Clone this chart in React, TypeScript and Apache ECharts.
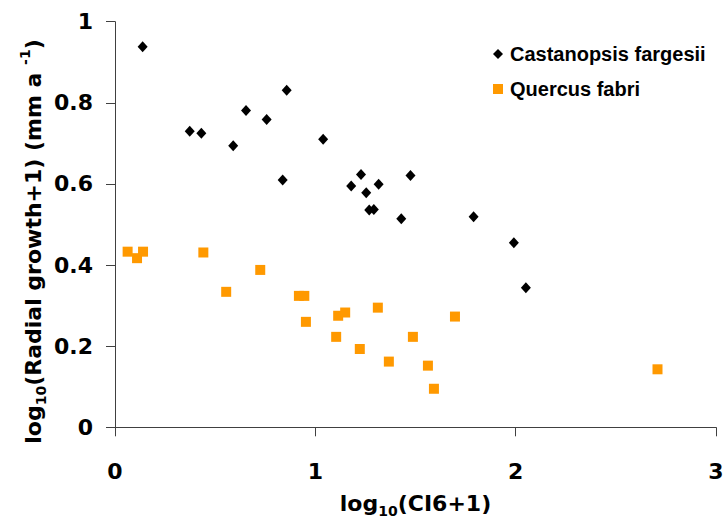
import React, { useEffect, useRef } from "react";
import * as echarts from "echarts";

// Castanopsis fargesii (diamonds)
const castX = [0.138, 0.373, 0.431, 0.59, 0.654, 0.757, 0.857, 0.837, 1.039, 1.179, 1.228, 1.254, 1.269, 1.292, 1.316, 1.429, 1.475, 1.79, 1.991, 2.051];
const castY = [0.938, 0.73, 0.725, 0.694, 0.781, 0.759, 0.831, 0.61, 0.71, 0.595, 0.623, 0.578, 0.536, 0.537, 0.599, 0.514, 0.621, 0.519, 0.455, 0.344];
// Quercus fabri (squares)
const quercX = [0.063, 0.11, 0.14, 0.441, 0.555, 0.725, 0.918, 0.945, 0.953, 1.104, 1.114, 1.149, 1.222, 1.312, 1.367, 1.487, 1.562, 1.592, 1.697, 2.708];
const quercY = [0.433, 0.417, 0.433, 0.431, 0.334, 0.388, 0.324, 0.324, 0.26, 0.223, 0.275, 0.283, 0.193, 0.295, 0.162, 0.223, 0.152, 0.095, 0.273, 0.143];

const seriesNames = ["Castanopsis fargesii", "Quercus fabri"];
const xTicks = { min: 0, max: 3, interval: 1 };
const yTicks = { min: 0, max: 1, interval: 0.2 };

const AXIS_FONT = "'DejaVu Sans', sans-serif";
const LEGEND_FONT = "'Liberation Sans', Arial, sans-serif";

const richTitle = {
  m: { fontFamily: AXIS_FONT, fontWeight: "bold" as const, fontSize: 22, color: "#000", lineHeight: 30 },
  s: { fontFamily: AXIS_FONT, fontWeight: "bold" as const, fontSize: 14, color: "#000", lineHeight: 14, verticalAlign: "bottom" as const },
  p: { fontFamily: AXIS_FONT, fontWeight: "bold" as const, fontSize: 14, color: "#000", lineHeight: 14, verticalAlign: "top" as const },
};

export default function App() {
  const ref = useRef<HTMLDivElement>(null);
  useEffect(() => {
    document.body.style.margin = "0";
    const chart = echarts.init(ref.current!, null, { renderer: "svg" });
    const axisLabel = {
      fontFamily: AXIS_FONT,
      fontWeight: "bold" as const,
      fontSize: 22,
      color: "#000",
    };
    chart.setOption({
      animation: false,
      backgroundColor: "#fff",
      grid: { left: 115, right: 10, top: 21.7, bottom: 91.7, containLabel: false, outerBoundsMode: "none" },
      legend: {
        orient: "vertical",
        left: 488,
        top: 39,
        itemWidth: 10,
        itemHeight: 10,
        itemGap: 15,
        data: seriesNames,
        textStyle: { fontFamily: LEGEND_FONT, fontWeight: "bold", fontSize: 20, color: "#000", padding: [0, 0, 0, 2] },
      },
      xAxis: {
        type: "value",
        min: xTicks.min,
        max: xTicks.max,
        interval: xTicks.interval,
        name: "{m|log}{s|10}{m|(CI6+1)}",
        nameLocation: "middle",
        nameGap: 61,
        nameTextStyle: { rich: richTitle },
        axisLine: { show: true, onZero: false, lineStyle: { color: "#404040", width: 1 } },
        axisTick: { show: true, length: 9, lineStyle: { color: "#404040" } },
        axisLabel: { ...axisLabel, margin: 33 },
        splitLine: { show: false },
      },
      yAxis: {
        type: "value",
        min: yTicks.min,
        max: yTicks.max,
        interval: yTicks.interval,
        axisLine: { show: true, onZero: false, lineStyle: { color: "#404040", width: 1 } },
        axisTick: { show: true, length: 9, lineStyle: { color: "#404040" } },
        axisLabel: { ...axisLabel, margin: 22 },
        splitLine: { show: false },
      },
      graphic: [
        {
          type: "text",
          x: 33,
          y: 241.5,
          rotation: Math.PI / 2,
          style: {
            text: "{m|log}{s|10}{m|(Radial growth+1) (mm a }{p|-1}{m|)}",
            rich: richTitle,
            align: "center",
            verticalAlign: "middle",
          },
        },
      ],
      series: [
        {
          name: seriesNames[0],
          type: "scatter",
          symbol: "diamond",
          symbolSize: [10, 11],
          itemStyle: { color: "#000", opacity: 1 },
          data: castX.map((x, i) => [x, castY[i]]),
        },
        {
          name: seriesNames[1],
          type: "scatter",
          symbol: "rect",
          symbolSize: 10,
          itemStyle: { color: "#FF9900", opacity: 1 },
          data: quercX.map((x, i) => [x, quercY[i]]),
        },
      ],
    });
    return () => chart.dispose();
  }, []);
  return <div ref={ref} style={{ width: 726, height: 519 }} />;
}
